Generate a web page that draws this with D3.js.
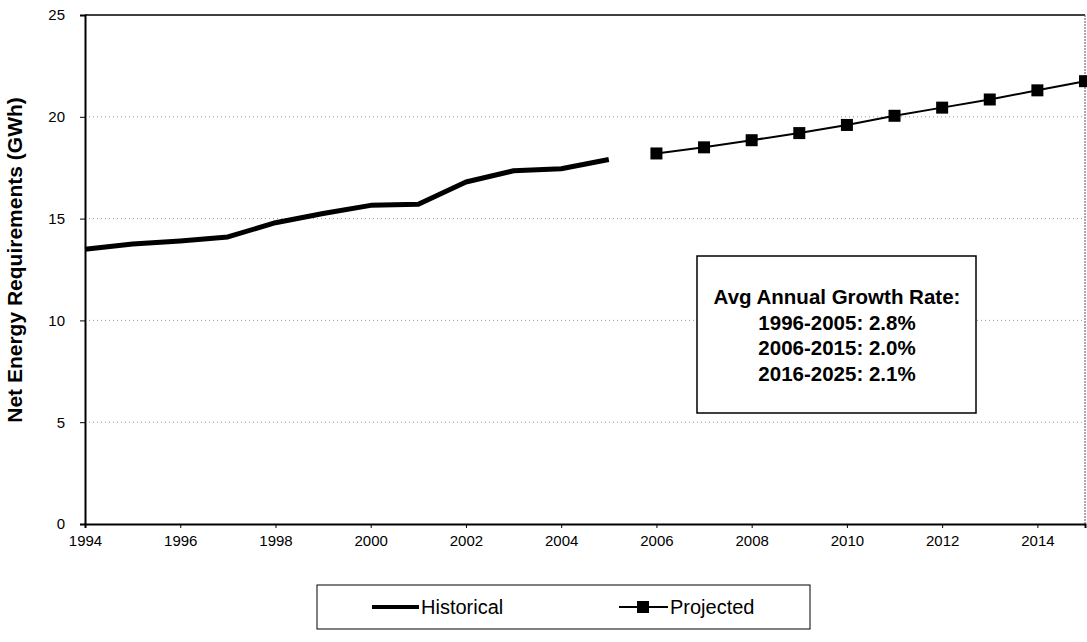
<!DOCTYPE html>
<html>
<head>
<meta charset="utf-8" />
<title>Net Energy Requirements</title>
<style>
    body { margin: 0; background: #fff; }
    svg { font-family: "Liberation Sans", Arial, sans-serif; }
</style>
</head>
<body>
<div id="container"></div>
<script src="https://cdn.jsdelivr.net/npm/d3@7"></script>
<script>
    // historical and projected net energy (GWh)
    const histYears = [1994, 1995, 1996, 1997, 1998, 1999, 2000, 2001, 2002, 2003, 2004, 2005]
    const histValues = [13.5, 13.75, 13.9, 14.1, 14.8, 15.25, 15.65, 15.7, 16.8, 17.35, 17.45, 17.9]
    const projYears = [2006, 2007, 2008, 2009, 2010, 2011, 2012, 2013, 2014, 2015]
    const projValues = [18.2, 18.5, 18.85, 19.2, 19.6, 20.05, 20.45, 20.85, 21.3, 21.75]
    const xTicks = [1994, 1996, 1998, 2000, 2002, 2004, 2006, 2008, 2010, 2012, 2014]
    const yTicks = [0, 5, 10, 15, 20, 25]
    const noteLines = ['Avg Annual Growth Rate:', '1996-2005: 2.8%', '2006-2015: 2.0%', '2016-2025: 2.1%']

    const W = 1087, H = 642
    const margin = { top: 15, right: 2, bottom: 118, left: 85 }
    const width = W - margin.left - margin.right
    const height = H - margin.top - margin.bottom

    let svg = d3.select('#container').append('svg').attr('width', W).attr('height', H)
    let chart = svg.append('g').attr('transform', `translate(${margin.left},${margin.top})`)

    let x = d3.scaleLinear().domain([1994, 2015]).range([0, width])
    let y = d3.scaleLinear().domain([0, 25]).range([height, 0])

    // dotted grid
    chart.append('g').selectAll('line').data(yTicks.filter(d => d > 0 && d < 25)).join('line')
        .attr('x1', 0).attr('x2', width)
        .attr('y1', d => y(d)).attr('y2', d => y(d))
        .attr('stroke', '#999').attr('stroke-width', 1).attr('stroke-dasharray', '1,3')

    // frame top / right
    chart.append('line').attr('x1', 0).attr('x2', width).attr('y1', 0).attr('y2', 0)
        .attr('stroke', '#000').attr('stroke-width', 1.5)
    chart.append('line').attr('x1', width).attr('x2', width).attr('y1', 0).attr('y2', height)
        .attr('stroke', '#555').attr('stroke-width', 1).attr('stroke-dasharray', '2,1')

    let xAxis = d3.axisBottom(x).tickValues(xTicks).tickFormat(d3.format('d')).tickSize(4).tickPadding(7)
    let yAxis = d3.axisLeft(y).tickValues(yTicks).tickSize(5).tickPadding(15)

    let gx = chart.append('g').attr('transform', `translate(0,${height})`).call(xAxis)
    let gy = chart.append('g').call(yAxis)
    ;[gx, gy].forEach(g => {
        g.select('.domain').attr('stroke', '#000').attr('stroke-width', 2)
        g.selectAll('text').attr('font-size', 15).attr('fill', '#000')
            .style('font-family', '"Liberation Sans", Arial, sans-serif')
    })

    svg.append('text')
        .attr('transform', `translate(22,260) rotate(-90)`)
        .attr('text-anchor', 'middle').attr('font-size', 21).attr('font-weight', 'bold')
        .text('Net Energy Requirements (GWh)')

    const hist = histYears.map((d, i) => [d, histValues[i]])
    const proj = projYears.map((d, i) => [d, projValues[i]])
    const line = d3.line().x(d => x(d[0])).y(d => y(d[1]))

    chart.append('path').datum(hist).attr('d', line)
        .attr('fill', 'none').attr('stroke', '#000').attr('stroke-width', 5).attr('stroke-linejoin', 'round')
    chart.append('path').datum(proj).attr('d', line)
        .attr('fill', 'none').attr('stroke', '#000').attr('stroke-width', 2)
    chart.append('g').selectAll('rect').data(proj).join('rect')
        .attr('x', d => x(d[0]) - 6).attr('y', d => y(d[1]) - 6)
        .attr('width', 12).attr('height', 12).attr('fill', '#000')

    // growth rate note
    let note = svg.append('g')
    note.append('rect').attr('x', 697).attr('y', 256).attr('width', 279).attr('height', 157)
        .attr('fill', '#fff').attr('stroke', '#000').attr('stroke-width', 1.5)
    note.selectAll('text').data(noteLines).join('text')
        .attr('x', 837).attr('y', (d, i) => 304 + i * 25.5)
        .attr('text-anchor', 'middle').attr('font-size', 20.5).attr('font-weight', 'bold')
        .text(d => d)

    // legend
    let legend = svg.append('g')
    legend.append('rect').attr('x', 317).attr('y', 585).attr('width', 493).attr('height', 44)
        .attr('fill', 'none').attr('stroke', '#000').attr('stroke-width', 1)
    legend.append('line').attr('x1', 372).attr('x2', 419).attr('y1', 607).attr('y2', 607)
        .attr('stroke', '#000').attr('stroke-width', 4)
    legend.append('text').attr('x', 421).attr('y', 614).attr('font-size', 20).text('Historical')
    legend.append('line').attr('x1', 619).attr('x2', 668).attr('y1', 607).attr('y2', 607)
        .attr('stroke', '#000').attr('stroke-width', 2)
    legend.append('rect').attr('x', 637).attr('y', 601).attr('width', 12).attr('height', 12).attr('fill', '#000')
    legend.append('text').attr('x', 670).attr('y', 614).attr('font-size', 20).text('Projected')
</script>
</body>
</html>
